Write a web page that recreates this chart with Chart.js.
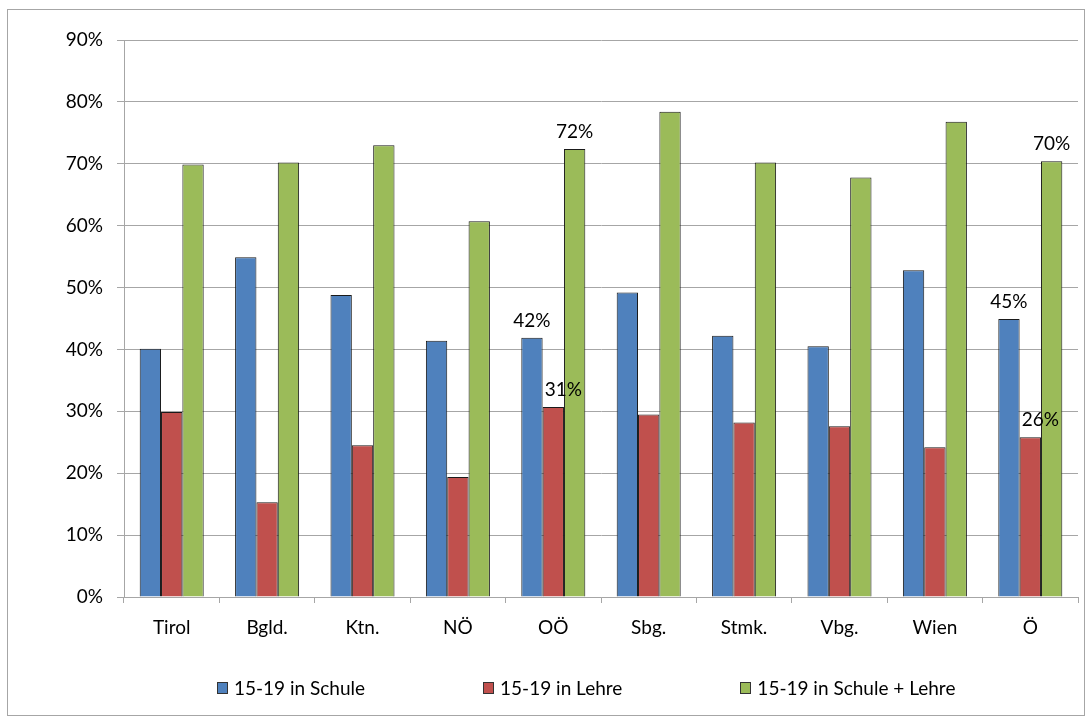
<!DOCTYPE html>
<html>
<head>
<meta charset="utf-8">
<script src="https://cdn.jsdelivr.net/npm/chart.js@4.4.0/dist/chart.umd.min.js"></script>
<style>
  body { margin: 0; background: #fff; }
  #wrap { position: relative; width: 1086px; height: 720px; }
  #frame { position: absolute; left: 7px; top: 9px; width: 1078px; height: 707px; border: 1px solid #a6a6a6; box-sizing: border-box; pointer-events: none; }
  #legend { position: absolute; left: 217px; top: 677px; display: flex; gap: 118px; font-family: Lato, sans-serif; font-size: 19px; color: #000; line-height: 22px; }
  .item { display: flex; align-items: center; }
  .box { width: 11px; height: 12px; border: 1px solid #333; box-sizing: border-box; margin-right: 6px; }
</style>
</head>
<body>
<div id="wrap">
  <div id="frame"></div>
  <canvas id="chart" width="1086" height="720"></canvas>
  <div id="legend"></div>
</div>
<script>
var categories = ['Tirol', 'Bgld.', 'Ktn.', 'NÖ', 'OÖ', 'Sbg.', 'Stmk.', 'Vbg.', 'Wien', 'Ö'];
var schule = [40.1, 54.9, 48.8, 41.4, 41.9, 49.2, 42.2, 40.5, 52.8, 44.9];
var lehre = [29.9, 15.3, 24.5, 19.4, 30.7, 29.5, 28.2, 27.6, 24.2, 25.8];
var schuleLehre = [69.9, 70.2, 73.0, 60.7, 72.4, 78.4, 70.2, 67.8, 76.8, 70.4];
var seriesNames = ['15-19 in Schule', '15-19 in Lehre', '15-19 in Schule + Lehre'];
var seriesColors = ['#4F81BD', '#C0504D', '#9BBB59'];
var labelledCategories = ['OÖ', 'Ö'];

var fontFamily = 'Lato, sans-serif';

// value labels only on the selected categories
var valueLabels = {
    id: 'valueLabels',
    afterDatasetsDraw: function(chart) {
        var ctx = chart.ctx;
        ctx.save();
        ctx.font = '19px ' + fontFamily;
        ctx.fillStyle = '#000';
        ctx.textAlign = 'center';
        ctx.textBaseline = 'middle';
        chart.data.datasets.forEach(function(ds, di) {
            var meta = chart.getDatasetMeta(di);
            var dx = di === 1 ? 10 : 0;
            labelledCategories.forEach(function(cat) {
                var i = chart.data.labels.indexOf(cat);
                var bar = meta.data[i];
                ctx.fillText(Math.round(ds.data[i]) + '%', bar.x + dx, bar.y - 17);
            });
        });
        ctx.restore();
    }
};

var chart = new Chart(document.getElementById('chart').getContext('2d'), {
    type: 'bar',
    data: {
        labels: categories,
        datasets: [
            { label: seriesNames[0], data: schule, backgroundColor: seriesColors[0] },
            { label: seriesNames[1], data: lehre, backgroundColor: seriesColors[1] },
            { label: seriesNames[2], data: schuleLehre, backgroundColor: seriesColors[2] }
        ]
    },
    options: {
        responsive: false,
        animation: false,
        layout: { padding: { left: 0, top: 40, right: 8, bottom: 0 } },
        datasets: {
            bar: {
                categoryPercentage: 0.671,
                barPercentage: 1,
                borderColor: '#1a1a1a',
                borderWidth: 1
            }
        },
        plugins: {
            legend: { display: false },
            tooltip: { enabled: false }
        },
        scales: {
            x: {
                afterFit: function(scale) { scale.height = 123; },
                grid: { display: true, drawOnChartArea: false, offset: true, color: '#a6a6a6', tickLength: 6 },
                border: { color: '#a6a6a6' },
                ticks: { color: '#000', font: { family: fontFamily, size: 19 }, padding: 13 }
            },
            y: {
                min: 0,
                max: 90,
                afterFit: function(scale) { scale.width = 124; },
                grid: { color: '#a6a6a6', tickLength: 7 },
                border: { color: '#a6a6a6' },
                ticks: {
                    stepSize: 10,
                    color: '#000',
                    padding: 14,
                    font: { family: fontFamily, size: 19 },
                    callback: function(v) { return v + '%'; }
                }
            }
        }
    },
    plugins: [valueLabels]
});

// legend spaced like the original
var legend = document.getElementById('legend');
chart.data.datasets.forEach(function(ds) {
    var item = document.createElement('div');
    item.className = 'item';
    var box = document.createElement('span');
    box.className = 'box';
    box.style.background = ds.backgroundColor;
    item.appendChild(box);
    item.appendChild(document.createTextNode(ds.label));
    legend.appendChild(item);
});
</script>
</body>
</html>
